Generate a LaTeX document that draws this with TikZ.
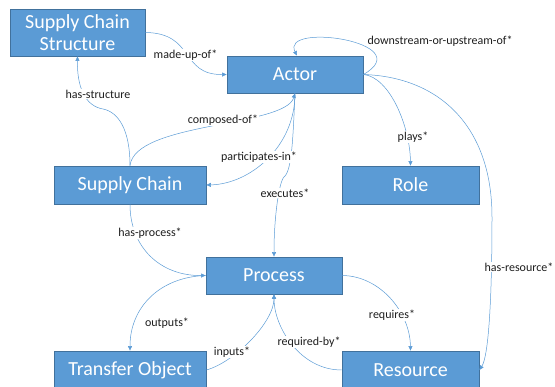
\documentclass[tikz,border=0pt]{standalone}
\usepackage{fontspec}
\setmainfont{Carlito}
\usetikzlibrary{arrows.meta}
\definecolor{boxblue}{HTML}{5B9BD5}
\definecolor{boxedge}{HTML}{41719C}
\definecolor{linkblue}{HTML}{5B9BD5}
\definecolor{labelgray}{HTML}{1E1E1E}
\begin{document}
\begin{tikzpicture}[x=1pt,y=1pt,
  box/.style={rectangle, fill=boxblue, draw=boxedge, line width=0.8pt, text=white,
    font=\fontsize{20}{21.5}\selectfont, align=center, inner sep=0pt},
  link/.style={draw=linkblue, line width=0.5pt, -{Triangle[length=4.5pt,width=4pt]}},
  lbl/.style={fill=white, inner sep=0.8pt, text=labelgray, font=\fontsize{12}{14}\selectfont}]
\useasboundingbox (0,0) rectangle (555,387);
\clip (0,0) rectangle (555,387);
% boxes
\node[box, minimum width=135pt, minimum height=47pt] (scs) at (77.5,354.5) {Supply Chain\\Structure};
\node[box, minimum width=136pt, minimum height=37pt] (actor) at (295,312.5) {Actor};
\node[box, minimum width=152pt, minimum height=38pt] (sc) at (130,202) {Supply Chain};
\node[box, minimum width=137pt, minimum height=38pt] (role) at (410.5,202) {Role};
\node[box, minimum width=136pt, minimum height=37pt] (proc) at (274,111.5) {Process};
\node[box, minimum width=152pt, minimum height=38pt] (to) at (130,17) {Transfer Object};
\node[box, minimum width=137pt, minimum height=38pt] (res) at (410.5,17) {Resource};
% connectors
\draw[link] (scs.east) .. controls (195,354) and (180,312) .. (actor.west);
\draw[link] (actor.east) .. controls (420,345) and (280,365) .. ([xshift=2pt]actor.north);
\draw[link] (actor.east) .. controls (390,310) and (410,260) .. (role.north);
\draw[link] (actor.east) .. controls (440,310) and (492,260) .. (492,170)
  .. controls (492,80) and (488,30) .. (res.east);
\draw[link] (sc.north) .. controls (135,265) and (285,260) .. (actor.south);
\draw[link] (sc.north) .. controls (130,258) and (118,275) .. (103,278)
  .. controls (85,281) and (77,300) .. (scs.south);
\draw[link] (actor.south) .. controls (295,240) and (250,203) .. (sc.east);
\draw[link] (actor.south) .. controls (293,250) and (292,216) .. (284,210)
  .. controls (279,205) and (274,170) .. (proc.north);
\draw[link] (sc.south) .. controls (130,140) and (160,111) .. (proc.west);
\draw[link] (proc.west) .. controls (160,110) and (130,80) .. (to.north);
\draw[link] (to.east) .. controls (235,25) and (274,65) .. (proc.south);
\draw[link] (proc.east) .. controls (380,111) and (410,75) .. (res.north);
\draw[link] (res.west) .. controls (300,17) and (274,60) .. (proc.south);
% labels
\node[lbl] (l1) at (185.5,332) {made-up-of*};
\node[lbl] (l2) at (440,346) {downstream-or-upstream-of*};
\node[lbl] (l3) at (413,250) {plays*};
\node[lbl] (l4) at (519,120) {has-resource*};
\node[lbl] (l5) at (223,267) {composed-of*};
\node[lbl] (l6) at (98,293) {has-structure};
\node[lbl] (l7) at (259,230) {participates-in*};
\node[lbl] (l8) at (285,194) {executes*};
\node[lbl] (l9) at (150,154) {has-process*};
\node[lbl] (l10) at (167,64) {outputs*};
\node[lbl] (l11) at (232,35) {inputs*};
\node[lbl] (l12) at (392,72) {requires*};
\node[lbl] (l13) at (309,45) {required-by*};
\end{tikzpicture}
\end{document}
